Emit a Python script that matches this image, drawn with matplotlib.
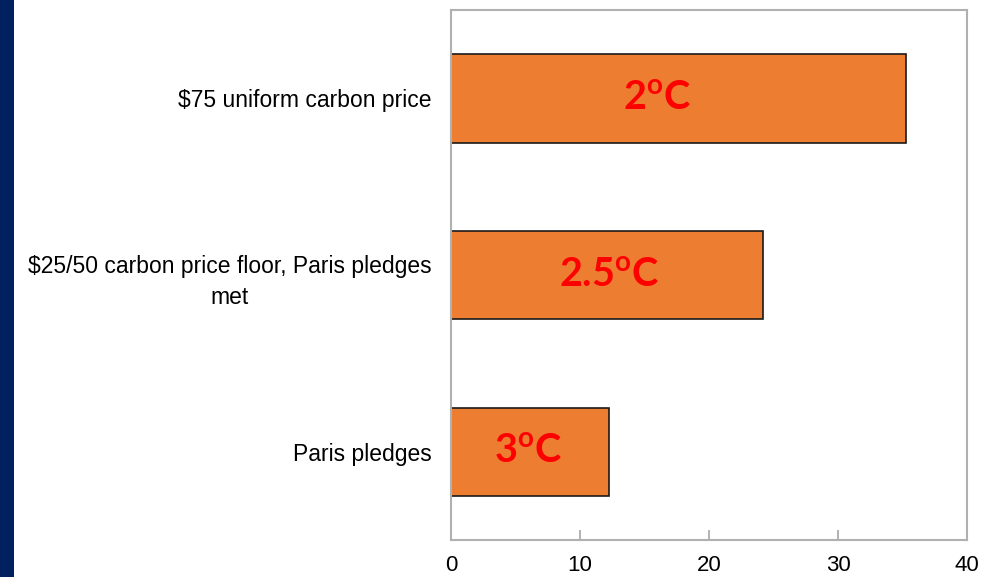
import matplotlib
matplotlib.use("Agg")
import matplotlib.pyplot as plt
from matplotlib.patches import Rectangle

# Scenarios (bottom to top) and the values plotted for each
scenarios = [
    "Paris pledges",
    "$25/50 carbon price floor, Paris pledges\nmet",
    "$75 uniform carbon price",
]
values = [12.25, 24.2, 35.3]
warming = ["3", "2.5", "2"]
warming_x = [6.0, 12.3, 16.0]

x_ticks = [0, 10, 20, 30, 40]

plt.rcParams["mathtext.fontset"] = "custom"
plt.rcParams["mathtext.rm"] = "Lato"
plt.rcParams["mathtext.bf"] = "Lato:bold"

fig = plt.figure(figsize=(9.86, 5.77), dpi=100)
fig.patch.set_facecolor("white")

# Dark navy band along the left edge
fig.patches.append(Rectangle((0, 0), 14 / 986, 1, transform=fig.transFigure,
                             facecolor="#002060", edgecolor="none", zorder=0))

ax = fig.add_axes([451 / 986, 1 - 540 / 577, 516 / 986, 530 / 577])

pos = list(range(len(scenarios)))
ax.barh(pos, values, height=0.5, color="#ED7D31", edgecolor="#1a1a1a",
        linewidth=1.2, zorder=2)

for y, lab, xl in zip(pos, warming, warming_x):
    ax.text(xl, y, lab + r"$^{\mathbf{o}}$C", ha="center", va="center",
            color="#FF0000", fontsize=28.5, fontweight="bold",
            family="Lato", zorder=3)

ax.set_xlim(0, 40)
ax.set_ylim(-0.5, len(scenarios) - 0.5)
ax.set_xticks(x_ticks)
ax.set_xticklabels([str(t) for t in x_ticks], family="Liberation Sans",
                   fontsize=16)
ax.set_yticks(pos)
ax.set_yticklabels(scenarios, family="Liberation Sans", fontsize=16.5,
                   multialignment="center", linespacing=1.5)

ax.tick_params(axis="x", direction="in", length=7.5, width=1.2,
               color="#a6a6a6", pad=11, labelcolor="black")
ax.tick_params(axis="y", length=0, pad=14, labelcolor="black")

for sp in ax.spines.values():
    sp.set_color("#b0b0b0")
    sp.set_linewidth(1.5)

fig.savefig("out.png", dpi=100, facecolor="white")
